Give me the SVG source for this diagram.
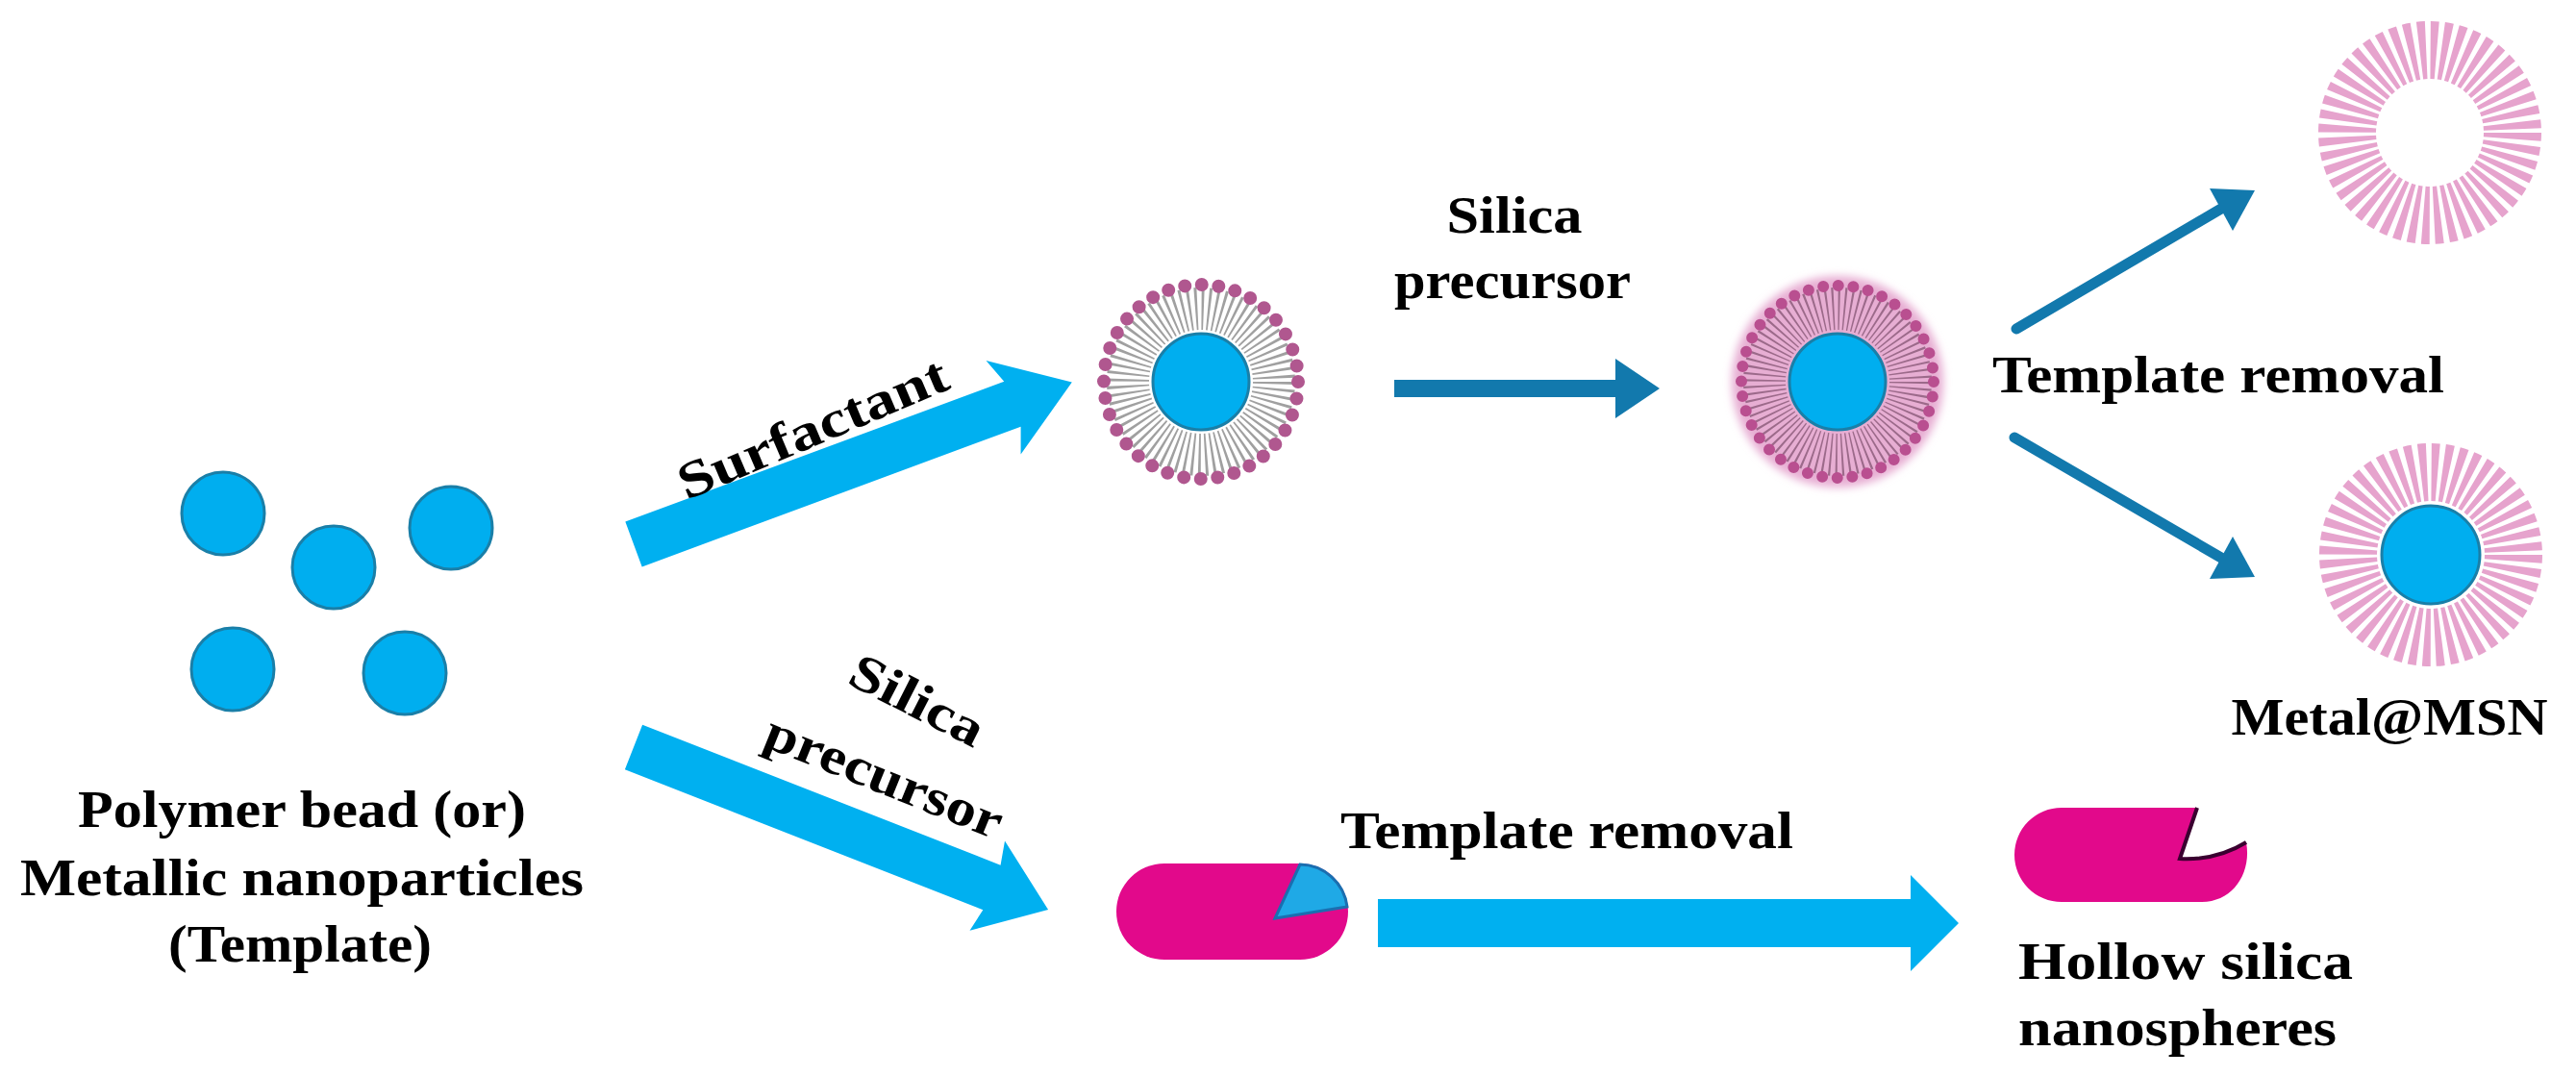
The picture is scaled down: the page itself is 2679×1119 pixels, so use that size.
<svg xmlns="http://www.w3.org/2000/svg" width="2679" height="1119" viewBox="0 0 2679 1119">
<style>
.t{font-family:"Liberation Serif","DejaVu Serif",serif;fill:#000;font-size:54px;font-weight:bold}
.core{fill:#00aeef;stroke:#1a7fa8;stroke-width:3}
.lb{fill:#00b0f0}
.db{stroke:#1279ad;stroke-width:11;fill:none;stroke-linecap:round}
.dbh{fill:#1279ad}
.rays{fill:none;stroke:#e6a3cd;stroke-width:60;stroke-dasharray:6.7 4.557}
</style>
<defs>
<filter id="blur" x="-20%" y="-20%" width="140%" height="140%"><feGaussianBlur stdDeviation="4"/></filter>
</defs>
<rect width="2679" height="1119" fill="#fff"/>

<g id="templates">
<circle class="core" cx="232" cy="534" r="43"/>
<circle class="core" cx="347" cy="590" r="43"/>
<circle class="core" cx="469" cy="549" r="43"/>
<circle class="core" cx="242" cy="696" r="43"/>
<circle class="core" cx="421" cy="700" r="43"/>
<text class="t" x="314" y="860" text-anchor="middle" textLength="466" lengthAdjust="spacingAndGlyphs">Polymer bead (or)</text>
<text class="t" x="314" y="931" text-anchor="middle" textLength="586" lengthAdjust="spacingAndGlyphs">Metallic nanoparticles</text>
<text class="t" x="312" y="1000" text-anchor="middle" textLength="274" lengthAdjust="spacingAndGlyphs">(Template)</text>
</g>

<g id="micelle">
<circle cx="1249" cy="397" r="76" fill="none" stroke="#a0a0a0" stroke-width="44" stroke-dasharray="2.4 4.232"/>
<circle cx="1249" cy="397" r="101" fill="none" stroke="#b0578f" stroke-width="14" stroke-linecap="round" stroke-dasharray="0 17.628"/>
<circle class="core" cx="1249" cy="397" r="50"/>
</g>

<g id="coated">
<circle cx="1911" cy="397" r="110" fill="#e7aed3" filter="url(#blur)"/>
<circle cx="1911" cy="397" r="76" fill="none" stroke="#9c6a8a" stroke-width="44" stroke-dasharray="1.8 4.169"/>
<circle cx="1911" cy="397" r="100" fill="none" stroke="#b94f90" stroke-width="12" stroke-linecap="round" stroke-dasharray="0 15.708"/>
<circle class="core" cx="1911" cy="397" r="50"/>
</g>

<g id="hollow-msn">
<circle class="rays" cx="2527" cy="138" r="86"/>
</g>

<g id="metal-msn">
<circle class="rays" cx="2528" cy="577" r="86"/>
<circle class="core" cx="2528" cy="577" r="51"/>
<text class="t" x="2485" y="764" text-anchor="middle" textLength="329" lengthAdjust="spacingAndGlyphs">Metal@MSN</text>
</g>

<g id="capsule">
<rect x="1161" y="898" width="241" height="100" rx="50" fill="#e2098b"/>
<path d="M1326,955 L1352,899 A50,50 0 0,1 1401,943 Z" fill="#1fa9e6" stroke="#1a6fb0" stroke-width="3"/>
</g>

<g id="hollow-sphere">
<path d="M2144,840 L2285,840 L2267,893 Q2305,895 2336,876 C2342,908 2322,938 2290,938 L2144,938 A49,49 0 0,1 2144,840 Z" fill="#e2098b"/>
<path d="M2285,840 L2267,893 Q2305,895 2336,876" fill="none" stroke="#3a0030" stroke-width="4"/>
<text class="t" x="2099" y="1018" textLength="348" lengthAdjust="spacingAndGlyphs">Hollow silica</text>
<text class="t" x="2099" y="1087" textLength="331" lengthAdjust="spacingAndGlyphs">nanospheres</text>
</g>

<g id="connectors">
<g transform="translate(659,566) rotate(-20.3)">
<polygon class="lb" points="0,-25 420,-25 410,-52 486,0 410,52 420,25 0,25"/>
</g>
<g transform="translate(659,777) rotate(21.4)">
<polygon class="lb" points="0,-25 400,-25 395,-50 463,0 395,50 400,25 0,25"/>
</g>
<polygon class="lb" points="1433,935 1987,935 1987,910 2037,960 1987,1010 1987,985 1433,985"/>
<rect class="dbh" x="1450" y="395" width="235" height="18"/>
<polygon class="dbh" points="1680,373 1726,404 1680,435"/>
<line class="db" x1="2097" y1="342" x2="2310" y2="217"/>
<polygon class="dbh" points="2345,198 2298,196 2322,240"/>
<line class="db" x1="2095" y1="455" x2="2310" y2="580"/>
<polygon class="dbh" points="2345,600 2298,602 2322,558"/>
<text class="t" x="1575" y="242" text-anchor="middle" textLength="141" lengthAdjust="spacingAndGlyphs">Silica</text>
<text class="t" x="1573" y="310" text-anchor="middle" textLength="246" lengthAdjust="spacingAndGlyphs">precursor</text>
<text class="t" x="2072" y="408" textLength="470" lengthAdjust="spacingAndGlyphs">Template removal</text>
<text class="t" x="1394" y="882" textLength="471" lengthAdjust="spacingAndGlyphs">Template removal</text>
<text class="t" transform="translate(852,462) rotate(-23)" text-anchor="middle" textLength="300" lengthAdjust="spacingAndGlyphs">Surfactant</text>
<text class="t" transform="translate(946,744) rotate(27)" text-anchor="middle" textLength="150" lengthAdjust="spacingAndGlyphs">Silica</text>
<text class="t" transform="translate(913,824) rotate(22)" text-anchor="middle" textLength="262" lengthAdjust="spacingAndGlyphs">precursor</text>
</g>
</svg>
